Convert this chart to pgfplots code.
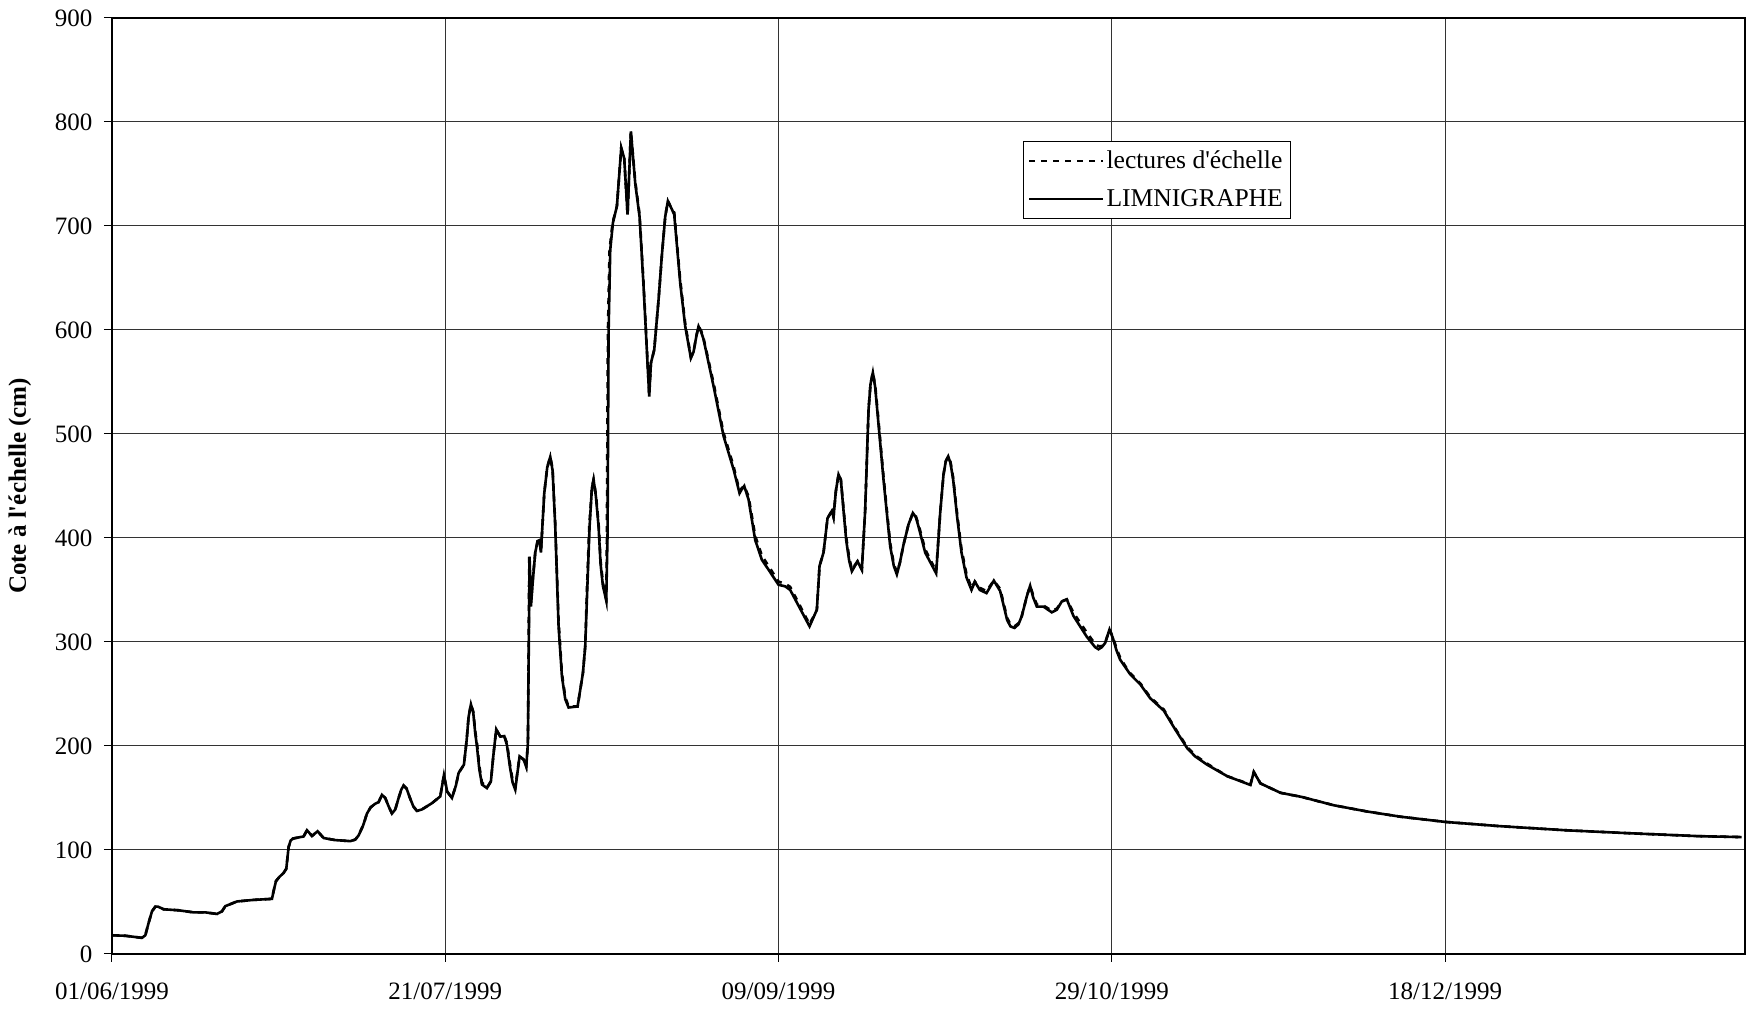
\documentclass[border=0pt]{standalone}
\usepackage{fontspec}
\setmainfont{Liberation Serif}
\usepackage{pgfplots}
\usepackage{pgfplotstable}
\pgfplotsset{compat=1.18}

% day since 01/06/1999, stage (cm)
\pgfplotstableread{
day val
0 18
2 17.5
4.5 15.5
5 18
5.5 30
6 41
6.5 45.5
6.9 45.5
7.75 43
10 42
12.25 40
14 40
15.75 38.5
16.5 41
17 46
18.75 50.5
21.25 52
24 53
24.3 62
24.6 70
25.1 74
25.75 78
26.15 82
26.5 103
26.8 109
27.15 111
28.75 113
29.25 119
30 113.5
30.85 118
31.75 111.5
33.5 109.5
35.75 108.5
36.5 110
37 114
37.7 124
38.25 135
38.8 141
39.5 144.5
40 146
40.5 153
41 150
41.5 142
42 135
42.5 139
43 150
43.4 158
43.75 162
44.2 159
44.7 150
45.2 142
45.75 137.5
46.5 139
47.25 142
48 145
49.25 151.5
49.8 172
50.3 156
51 150
51.6 162
52 174
52.8 182
53.2 205
53.5 228
53.85 240
54.2 232
54.5 212
54.75 200
55.1 178
55.5 163
56.25 159.5
56.85 166
57.2 190
57.65 216
58.25 209
58.85 209.5
59.25 201
59.7 180
60.1 165
60.5 158
61.15 190
61.75 187
62.15 180
62.4 203
62.65 382
62.85 334
63.15 360
63.5 386
63.85 397
64.15 398
64.35 386
64.85 443
65.3 468
65.75 478
66.1 465
66.5 411
67 315
67.5 267
68 245
68.5 237
69.85 238
70.65 270
71 296
71.3 350
71.65 411
72 448
72.25 456
72.6 440
73 411
73.3 375
73.65 354
74.15 340
74.35 405
74.5 597
74.75 677
75.15 703
75.75 719
76.4 775
76.85 765
77.35 711
77.85 791
78.5 741
79.15 709
79.75 642
80.6 536
80.85 568
81.35 581
82 629
82.5 672
83 709
83.4 724
84 716
84.35 711
85.25 645
86 603.5
86.85 573
87.25 579
87.7 595
88 603.5
88.4 598
88.75 591
90.25 546
91.75 498
93.25 466
94.15 443
94.5 447
94.85 450
95.5 437
96.5 398
97.5 379
98.5 369.5
100 355
101 353.5
101.75 350
104.65 315
105.75 331
106.15 373
106.75 386
107.35 419
108 426
108.25 420
108.6 445
109 461
109.35 456
109.7 430
110.15 398
110.6 378
111 368
111.85 377.5
112.5 369.5
113 427
113.5 523
113.8 548
114.15 559
114.5 545
114.85 520
115.75 456
116.75 392
117.3 373
117.75 365
118.2 376
118.75 393.5
119.5 413
120.15 424
120.6 420
121 411
122 386
123.65 366
124.25 424
124.75 461
125.1 474
125.45 478.5
125.8 472
126.2 456
126.8 420
127.45 386
128.2 362
128.95 350
129.45 358
130.2 350
131.2 347
132.3 359
133.25 349
134.3 321
134.8 315
135.4 313.5
136 317
136.5 325
137.25 344
137.75 354
138.2 343
138.75 334
139.75 334
141 328.5
141.75 331
142.5 339
143.25 341
144.25 325
146.25 305
147.5 295
148 293
148.5 295
149 299
149.65 312
150.15 304
150.7 292
151.25 283
152 276
152.75 269
154.3 259
155.75 246
157.8 234
159.5 216
161.3 198
162.5 190
164.3 182
167.3 171
170.8 162.5
171.3 175
172.3 164
175.3 155
178.5 151
183.3 143
188.3 137
193.3 132
200 127
208 123
218 119
228 116
238 113.3
244.5 112.4
}\limni

\pgfplotstableread{
day val
0 18
2 17.5
4.5 15.5
5 18
5.5 30
6 41
6.5 45.5
6.9 45.5
7.75 43
10 42
12.25 40
14 40
15.75 38.5
16.5 41
17 46
18.75 50.5
21.25 52
24 53
24.3 62
24.6 70
25.1 74
25.75 78
26.15 82
26.5 103
26.8 109
27.15 111
28.75 113
29.25 119
30 113.5
30.85 118
31.75 111.5
33.5 109.5
35.75 108.5
36.5 110
37 114
37.7 124
38.25 135
38.8 141
39.5 144.5
40 146
40.5 153
41 150
41.5 142
42 135
42.5 139
43 150
43.4 158
43.75 162
44.2 159
44.7 150
45.2 142
45.75 137.5
46.5 139
47.25 142
48 145
49.25 151.5
49.8 172
50.3 156
51 150
51.6 162
52 174
52.8 182
53.2 205
53.5 228
53.85 240
54.2 233
54.5 214
54.75 203
55.1 181
55.5 165
56.25 160
56.85 166
57.2 190
57.65 216
58.25 209
58.85 209.5
59.25 203
59.7 183
60.1 167
60.5 160
61.15 190
61.75 187
62.15 180
62.4 203
62.6 382
62.85 338
63.15 362
63.5 386
63.85 397
64.15 398
64.35 386
64.85 443
65.3 468
65.75 478
66.1 467
66.5 414
67 320
67.5 270
68 247
68.5 238
69.85 238
70.65 270
71 296
71.25 350
71.6 411
72 448
72.25 456
72.6 442
73 414
73.3 378
73.65 357
74.15 341
74.25 405
74.4 597
74.65 677
75.1 703
75.75 719
76.4 775
76.85 765
77.35 711
77.85 791
78.5 743
79.15 711
79.75 645
80.6 537
80.85 568
81.35 581
82 629
82.5 672
83 709
83.4 724
84 716
84.35 713
85.25 648
86 606
86.85 574
87.25 579
87.7 595
88 603.5
88.4 599
88.75 592
90.25 549
91.75 501
93.25 469
94.15 445
94.5 448
94.85 450
95.5 440
96.5 402
97.5 383
98.5 373
100 358
101 356
101.75 353
104.65 317
105.75 331
106.15 373
106.75 386
107.35 419
108 426
108.25 420
108.6 445
109 461
109.35 456
109.7 432
110.15 401
110.6 381
111 370
111.85 377.5
112.5 369.5
113 427
113.5 523
113.8 548
114.15 559
114.5 547
114.85 523
115.75 459
116.75 395
117.3 375
117.75 367
118.2 376
118.75 393.5
119.5 413
120.15 424
120.6 421
121 413
122 389
123.65 368
124.25 424
124.75 461
125.1 474
125.45 478.5
125.8 473
126.2 458
126.8 423
127.45 389
128.2 365
128.95 352
129.45 358
130.2 352
131.2 349
132.3 359
133.25 351
134.3 323
134.8 317
135.4 315
136 318
136.5 325
137.25 344
137.75 354
138.2 345
138.75 336
139.75 335
141 330
141.75 332
142.5 339
143.25 341
144.25 328
146.25 309
147.5 298
148 296
148.5 296
149 299
149.65 312
150.15 305
150.7 294
151.25 285
152 277
152.75 270
154.3 260
155.75 247
157.8 235
159.5 217
161.3 199
162.5 191
164.3 183
167.3 171
170.8 163
171.3 175
172.3 164
175.3 155
178.5 151
183.3 143
188.3 137
193.3 132
200 127
208 123
218 119
228 116
238 113.3
244.5 112.4
}\lectures

\begin{document}
\begin{tikzpicture}
\begin{axis}[
  name=ax,
  scale only axis,
  width=816.5pt, height=468pt,
  xmin=0, xmax=245,
  ymin=0, ymax=900,
  xtick={0,50,100,150,200},
  xticklabels={01/06/1999,21/07/1999,09/09/1999,29/10/1999,18/12/1999},
  ytick={0,100,...,900},
  grid=major,
  major grid style={black!80, line width=0.5pt},
  axis line style={black, line width=0.6pt},
  tick style={black, line width=0.5pt},
  tick align=outside,
  major tick length=4pt,
  xtick pos=bottom, ytick pos=left,
  /pgf/number format/assume math mode=true,
  tick label style={font=\fontsize{12.5}{14}\selectfont},
  yticklabel style={xshift=-2.3pt},
  xticklabel style={yshift=-7pt},
  ylabel={Cote à l\textquotesingle échelle (cm)},
  every axis y label/.style={at={(axis description cs:-0.0565,0.5)}, rotate=90, anchor=center, font=\fontsize{12.5}{14}\selectfont\bfseries},
  legend style={at={(axis description cs:0.5577,0.869)}, anchor=north west, draw=black, line width=0.5pt, fill=white,
     font=\fontsize{12.8}{14}\selectfont, inner xsep=2.4pt, inner ysep=2.6pt, row sep=5pt,
     nodes={inner xsep=1.25pt, inner ysep=2pt}},
  legend cell align=left,
  legend image code/.code={\draw[#1, line width=1pt] (0pt,0pt) -- (37pt,0pt);},
  clip=true,
]
\addplot[black, line width=1.3pt, dash pattern=on 3pt off 3pt] table[x=day, y=val] {\lectures};
\addlegendentry{lectures d\textquotesingle échelle}
\addplot[black, line width=1.3pt] table[x=day, y=val] {\limni};
\addlegendentry{LIMNIGRAPHE}
\end{axis}
\pgfresetboundingbox
\path ([xshift=-56pt,yshift=-28.5pt]ax.south west) rectangle ([xshift=4.5pt,yshift=9pt]ax.north east);
\end{tikzpicture}
\end{document}
